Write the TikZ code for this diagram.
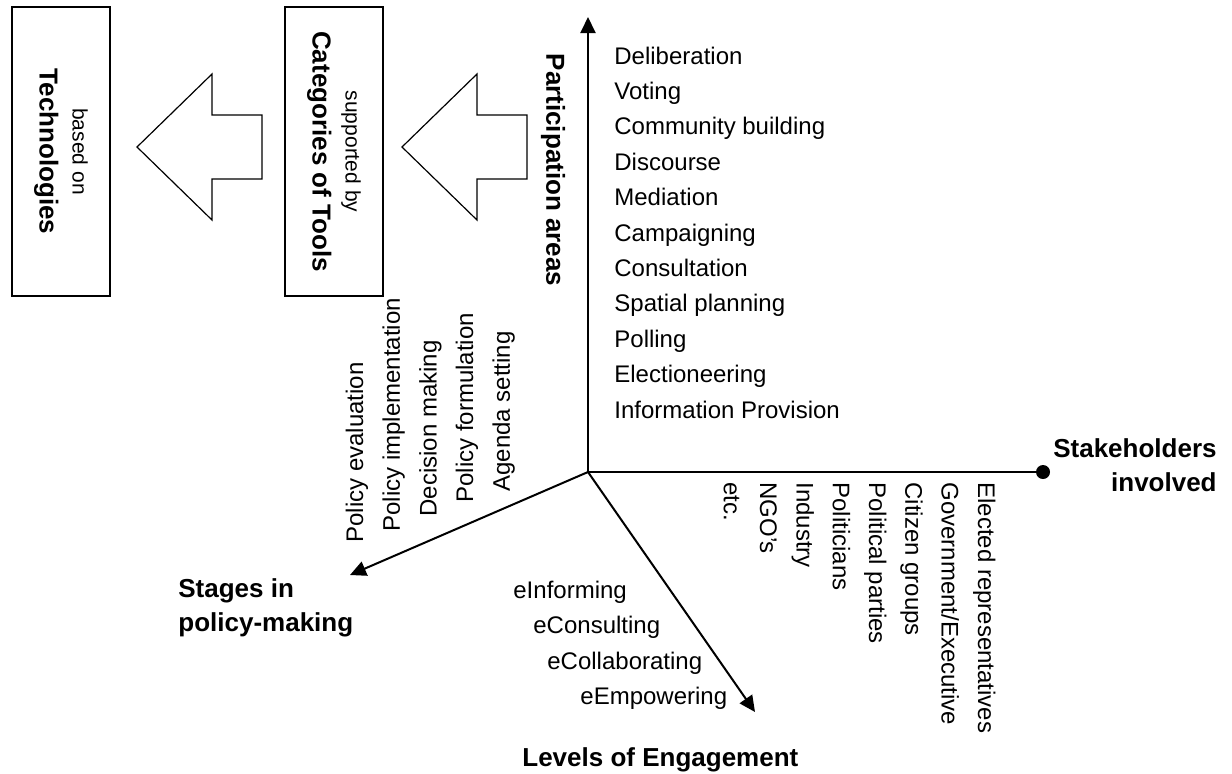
\documentclass[tikz,border=0pt]{standalone}
\usepackage{fontspec}
\setmainfont{Liberation Sans}
\usetikzlibrary{arrows.meta,positioning}

\tikzset{
  item/.style={inner sep=0pt, anchor=west, text height=8.6pt, text depth=2.5pt, font=\fontsize{12}{14}\selectfont},
  title/.style={inner sep=0pt, font=\fontsize{13}{17}\selectfont\bfseries},
  toolbox/.style={draw, line width=0.8pt, rotate=-90, align=center, minimum width=144.5pt, minimum height=49pt, inner sep=0pt, font=\fontsize{13}{16.5}\selectfont},
  axis/.style={line width=1pt},
  axisarrow/.style={axis, -{Triangle[length=8pt,width=7.5pt]}},
  blockarrow/.style={draw, line width=0.6pt, line join=miter}
}

\begin{document}
\begin{tikzpicture}[x=0.5pt,y=-0.5pt]
  \useasboundingbox (0,0) rectangle (1232,773);

  % tool boxes
  \node[toolbox] (tech) at (61,151.5) {{\fontsize{10.5}{16.5}\selectfont based on}\\{\bfseries Technologies}};
  \node[toolbox] (cat) at (334,151.5) {{\fontsize{10.5}{16.5}\selectfont supported by}\\{\bfseries Categories of Tools}};

  % block arrows
  \foreach \tx in {137,402}
    \draw[blockarrow] (\tx,147) -- (\tx+75,74) -- (\tx+75,115) -- (\tx+125,115)
      -- (\tx+125,179) -- (\tx+75,179) -- (\tx+75,220) -- cycle;

  % axes
  \coordinate (o) at (588,472);
  \coordinate (paend) at (588,17);
  \coordinate (stend) at (350,575);
  \coordinate (lvend) at (755,712);
  \node[circle, fill, inner sep=0pt, minimum size=7pt] (shdot) at (1043,472) {};
  \draw[axisarrow] (o) -- (paend);
  \draw[axisarrow] (o) -- (stend);
  \draw[axisarrow] (o) -- (lvend);
  \draw[axis] (o) -- (shdot);

  % axis titles
  \node[title, rotate=-90] (patitle) at (553,170) {Participation areas};
  \node[title, align=right, anchor=east] (shtitle) at (1217,465) {Stakeholders\\involved};
  \node[title, align=left, anchor=west] (sttitle) at (178,608) {Stages in\\policy-making};
  \node[title, anchor=west] (lvtitle) at (522,760) {Levels of Engagement};

  % participation areas
  \foreach \t [count=\i from 0] in {Deliberation, Voting, Community building, Discourse,
      Mediation, Campaigning, Consultation, Spatial planning, Polling, Electioneering,
      Information Provision}
    \node[item] (pa\i) at (614,58+35.4*\i) {\t};

  % stakeholders
  \foreach \t [count=\i from 0] in {etc., NGO’s, Industry, Politicians, Political parties,
      Citizen groups, Government/Executive, Elected representatives}
    \node[item, rotate=-90] (sh\i) at (730+36.3*\i,482) {\t};

  % stages in policy-making
  \foreach \t/\yb [count=\i from 0] in {Policy evaluation/543, Policy implementation/532,
      Decision making/517, Policy formulation/503, Agenda setting/492}
    \node[item, rotate=90] (st\i) at (357+36.7*\i,\yb) {\t};

  % levels of engagement
  \node[item] (lv1) at (513,592) {eInforming};
  \node[item] (lv2) at (533,627) {eConsulting};
  \node[item] (lv3) at (547,663) {eCollaborating};
  \node[item] (lv4) at (580,698) {eEmpowering};
\end{tikzpicture}
\end{document}
